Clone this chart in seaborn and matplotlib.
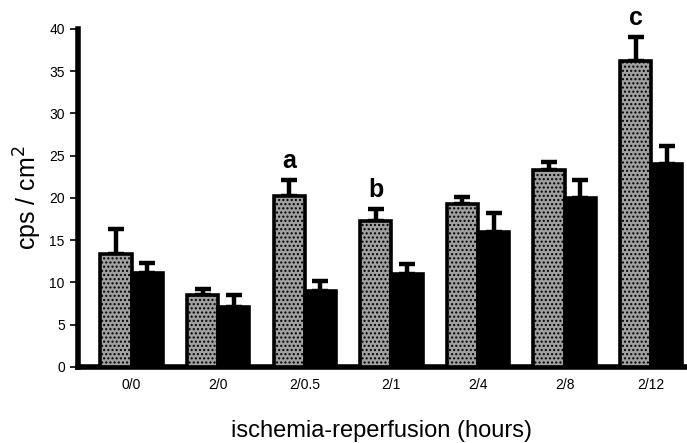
import numpy as np
import pandas as pd
import matplotlib
matplotlib.use("Agg")
import matplotlib.pyplot as plt
import seaborn as sns

# values
times = ["0/0", "2/0", "2/0.5", "2/1", "2/4", "2/8", "2/12"]
gray_mean = [13.4, 8.5, 20.2, 17.3, 19.3, 23.3, 36.2]
gray_err = [2.9, 0.7, 1.9, 1.4, 0.8, 0.9, 2.9]
black_mean = [11.1, 7.1, 9.0, 11.0, 16.0, 20.0, 24.0]
black_err = [1.2, 1.4, 1.2, 1.2, 2.2, 2.1, 2.1]
letters = {"2/0.5": "a", "2/1": "b", "2/12": "c"}

df = pd.DataFrame({
    "time": times * 2,
    "value": gray_mean + black_mean,
    "group": ["gray"] * len(times) + ["black"] * len(times),
})

sns.set_style("white")
plt.rcParams["font.family"] = ["Liberation Sans", "DejaVu Sans"]
plt.rcParams["text.color"] = "black"
plt.rcParams["axes.labelcolor"] = "black"
plt.rcParams["xtick.color"] = "black"
plt.rcParams["ytick.color"] = "black"

fig = plt.figure(figsize=(6.87, 4.43), dpi=100)
ax = fig.add_axes([0.1135, 0.1716, 0.8835, 0.763])

sns.barplot(data=df, x="time", y="value", hue="group", order=times,
            hue_order=["gray", "black"], palette=["#a0a0a0", "black"],
            width=0.72, errorbar=None, edgecolor="black", linewidth=2.6,
            legend=False, ax=ax, zorder=3)

gray_bars = ax.containers[0]
black_bars = ax.containers[1]
for p in gray_bars:
    p.set_hatch("....")

for bars, mean, err in [(gray_bars, gray_mean, gray_err), (black_bars, black_mean, black_err)]:
    xs = [p.get_x() + p.get_width() / 2 for p in bars]
    ax.errorbar(xs, mean, yerr=[np.zeros(len(err)), err], fmt="none",
                ecolor="black", elinewidth=3.2, capsize=5.5, capthick=3.2, zorder=2)

for p, t, m, e in zip(gray_bars, times, gray_mean, gray_err):
    if t in letters:
        ax.text(p.get_x() + p.get_width() / 2, m + e + 0.8, letters[t], color="black",
                ha="center", va="bottom", fontsize=18, fontweight="bold", clip_on=False)

ax.set_ylim(0, 40)
ax.set_xlim(-0.62, 6.39)
ax.set_yticks(range(0, 41, 5))
ax.tick_params(axis="y", direction="out", length=6, width=1.2, labelsize=10, left=True)
ax.tick_params(axis="x", length=0, labelsize=10, pad=8)

for s in ["top", "right"]:
    ax.spines[s].set_visible(False)
ax.spines["left"].set_linewidth(4)
ax.spines["bottom"].set_linewidth(4)
ax.spines["left"].set_color("black")
ax.spines["bottom"].set_color("black")

ax.set_ylabel("cps / cm$^2$", fontsize=18, labelpad=4)
ax.set_xlabel("ischemia-reperfusion (hours)", fontsize=17, labelpad=20)

fig.savefig("out.png", dpi=100)
